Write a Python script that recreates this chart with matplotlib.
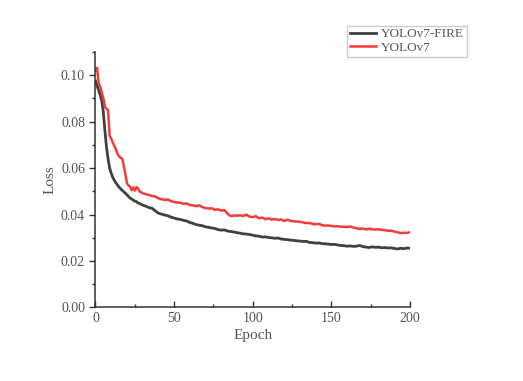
import matplotlib
matplotlib.use("Agg")
import matplotlib.pyplot as plt
import numpy as np
from matplotlib.ticker import MultipleLocator, FormatStrFormatter

# epochs: every epoch up to 30, every second epoch after that
epochs = list(range(0, 31)) + list(range(32, 201, 2))

loss_fire = [
    0.0975, 0.0955, 0.0935, 0.0915, 0.0890, 0.0840, 0.0760, 0.0690, 0.0640, 0.0600,
    0.0578, 0.0560, 0.0547, 0.0536, 0.0527, 0.0518, 0.0511, 0.0504, 0.0498, 0.0492,
    0.0485, 0.0478, 0.0471, 0.0467, 0.0462, 0.0458, 0.0456, 0.0450, 0.0448, 0.0444,
    0.0441,
    # 32 .. 200 step 2
    0.0436, 0.0430, 0.0427, 0.0416, 0.0406, 0.0402, 0.0398, 0.0395, 0.0389, 0.0385,
    0.0381, 0.0379, 0.0375, 0.0372, 0.0366, 0.0362, 0.0357, 0.0354, 0.0352, 0.0347,
    0.0345, 0.0342, 0.0340, 0.0335, 0.0333, 0.0334, 0.0329, 0.0327, 0.0325, 0.0322,
    0.0320, 0.0317, 0.0316, 0.0314, 0.0311, 0.0308, 0.0307, 0.0303, 0.0304, 0.0301,
    0.0300, 0.0298, 0.0299, 0.0295, 0.0293, 0.0292, 0.0290, 0.0289, 0.0287, 0.0286,
    0.0284, 0.0285, 0.0280, 0.0279, 0.0277, 0.0278, 0.0275, 0.0274, 0.0273, 0.0271,
    0.0272, 0.0269, 0.0267, 0.0266, 0.0264, 0.0265, 0.0263, 0.0264, 0.0267, 0.0262,
    0.0260, 0.0258, 0.0261, 0.0259, 0.0260, 0.0257, 0.0258, 0.0256, 0.0257, 0.0254,
    0.0252, 0.0255, 0.0253, 0.0256, 0.0255,
]

loss_v7 = [
    0.1020, 0.1032, 0.0966, 0.0950, 0.0925, 0.0900, 0.0865, 0.0855, 0.0850, 0.0740,
    0.0728, 0.0710, 0.0695, 0.0680, 0.0662, 0.0650, 0.0645, 0.0640, 0.0610, 0.0575,
    0.0535, 0.0525, 0.0520, 0.0505, 0.0517, 0.0503, 0.0518, 0.0512, 0.0500, 0.0496,
    0.0492,
    # 32 .. 200 step 2
    0.0488, 0.0484, 0.0480, 0.0478, 0.0470, 0.0466, 0.0463, 0.0465, 0.0458, 0.0454,
    0.0452, 0.0451, 0.0446, 0.0448, 0.0441, 0.0440, 0.0436, 0.0440, 0.0432, 0.0428,
    0.0426, 0.0427, 0.0420, 0.0423, 0.0417, 0.0419, 0.0404, 0.0393, 0.0396, 0.0395,
    0.0397, 0.0394, 0.0400, 0.0391, 0.0389, 0.0393, 0.0384, 0.0387, 0.0380, 0.0384,
    0.0378, 0.0381, 0.0377, 0.0379, 0.0372, 0.0378, 0.0373, 0.0371, 0.0370, 0.0369,
    0.0366, 0.0363, 0.0364, 0.0360, 0.0358, 0.0360, 0.0355, 0.0352, 0.0353, 0.0351,
    0.0349, 0.0350, 0.0347, 0.0348, 0.0346, 0.0349, 0.0344, 0.0341, 0.0338, 0.0340,
    0.0336, 0.0339, 0.0337, 0.0335, 0.0337, 0.0334, 0.0333, 0.0330, 0.0331, 0.0327,
    0.0324, 0.0320, 0.0322, 0.0321, 0.0324,
]

plt.rcParams['font.family'] = ['Liberation Serif', 'DejaVu Serif']
text_color = '#555555'

fig = plt.figure(figsize=(5.23, 3.81), dpi=100)
ax = fig.add_axes([0.1826, 0.193, 0.6014, 0.6705])

ax.plot(epochs, loss_fire, color='#404040', lw=2.0, label='YOLOv7-FIRE')
ax.plot(epochs, loss_v7, color='#f53a3a', lw=1.8, label='YOLOv7')

ax.set_xlim(0, 200)
ax.set_ylim(0, 0.11)
ax.xaxis.set_major_locator(MultipleLocator(50))
ax.xaxis.set_minor_locator(MultipleLocator(25))
ax.yaxis.set_major_locator(MultipleLocator(0.02))
ax.yaxis.set_minor_locator(MultipleLocator(0.01))
ax.yaxis.set_major_formatter(FormatStrFormatter('%.2f'))

for s in ['top', 'right']:
    ax.spines[s].set_visible(False)
for s in ['left', 'bottom']:
    ax.spines[s].set_color('#333333')
    ax.spines[s].set_linewidth(1.1)

ax.tick_params(axis='y', which='major', direction='out', length=4, width=1, colors='#333333',
               labelcolor=text_color, labelsize=10)
ax.tick_params(axis='y', which='minor', direction='out', length=2.5, width=1, colors='#333333')
ax.tick_params(axis='x', which='major', direction='in', length=4, width=1, colors='#333333',
               labelcolor=text_color, labelsize=10)
ax.tick_params(axis='x', which='minor', direction='in', length=2.5, width=1, colors='#333333')

ax.set_xlabel('Epoch', color=text_color, fontsize=11, labelpad=3)
ax.set_ylabel('Loss', color=text_color, fontsize=11, labelpad=3)

fig.legend(loc='upper right', bbox_to_anchor=(0.893, 0.933), fontsize=9.5,
           fancybox=False, edgecolor='#cccccc', framealpha=1, borderpad=0.2,
           handlelength=2.0, handletextpad=0.4, labelspacing=0.1, borderaxespad=0,
           labelcolor=text_color)

fig.savefig('out.png', dpi=100)
